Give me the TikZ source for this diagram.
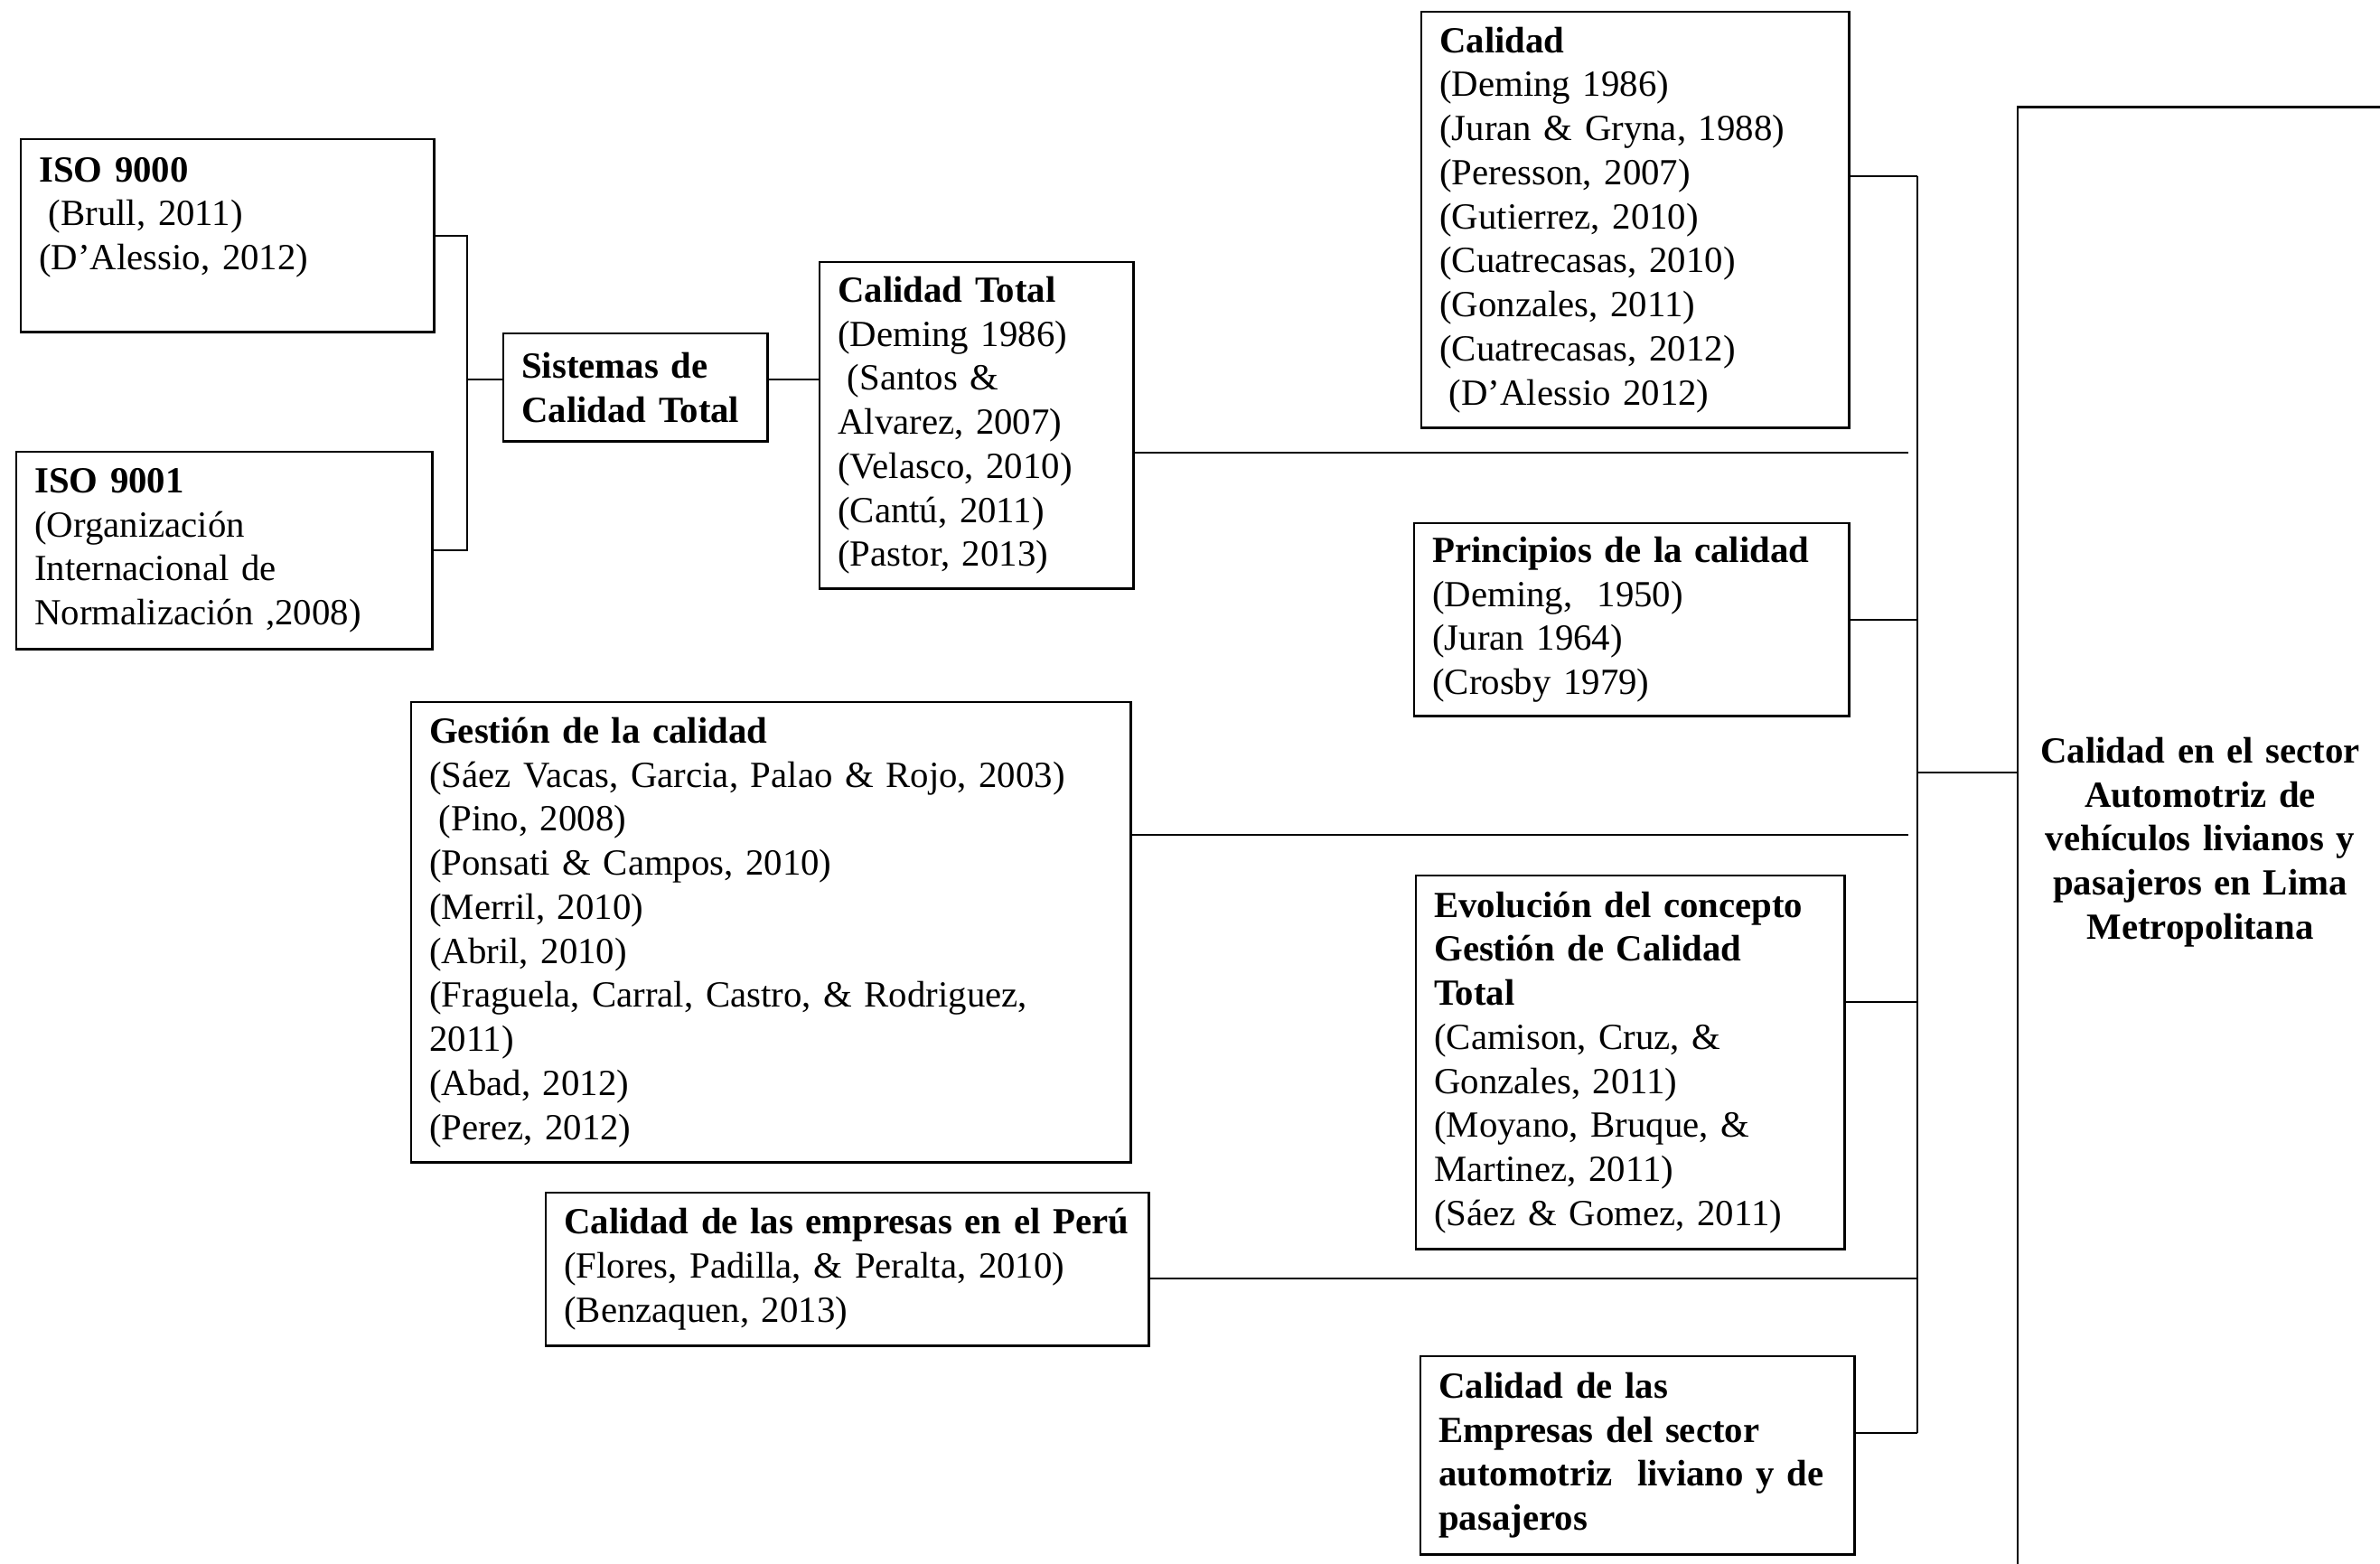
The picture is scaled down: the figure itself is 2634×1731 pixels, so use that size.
\documentclass[tikz,border=0pt,12pt]{standalone}
\usepackage{fontspec}
\setmainfont{Liberation Serif}
\usetikzlibrary{positioning}
\tikzset{
  cell/.style={
    rectangle, draw=black, line width=0.7pt, anchor=north west,
    font=\fontsize{11.6}{13.86}\selectfont, align=left,
    inner xsep=0.2cm, inner ysep=0pt
  },
  hub/.style={cell, anchor=center, align=center,
    font=\bfseries\fontsize{11.6}{13.86}\selectfont},
  link/.style={line width=0.6pt, black}
}

\begin{document}
\begin{tikzpicture}[x=0.01cm, y=-0.01cm]

\useasboundingbox (0,0) rectangle (2634,1731);
\clip (0,0) rectangle (2634,1731);

\node[cell, text width=4.17cm, minimum height=2.13cm] (iso0) at (22,153)
  {\textbf{ISO 9000}\\\hspace*{3pt}(Brull, 2011)\\(D'Alessio, 2012)\\ ~};

\node[cell, text width=4.20cm, minimum height=2.18cm] (iso1) at (17,499)
  {\textbf{ISO 9001}\\(Organización\\Internacional de\\Normalización\ ,2008)};

\node[cell, text width=2.52cm, minimum height=1.19cm] (sis) at (556,368)
  {\textbf{Sistemas de}\\\textbf{Calidad Total}};

\node[cell, text width=3.07cm, minimum height=3.61cm] (ct) at (906,289)
  {\textbf{Calidad Total}\\(Deming 1986)\\\hspace*{3pt}(Santos \&\\Alvarez, 2007)\\(Velasco, 2010)\\(Cantú, 2011)\\(Pastor, 2013)};

\node[cell, text width=4.33cm, minimum height=4.60cm] (cal) at (1572,12)
  {\textbf{Calidad}\\(Deming 1986)\\(Juran \& Gryna, 1988)\\(Peresson, 2007)\\(Gutierrez, 2010)\\(Cuatrecasas, 2010)\\(Gonzales, 2011)\\(Cuatrecasas, 2012)\\\hspace*{3pt}(D’Alessio 2012)};

\node[cell, text width=4.41cm, minimum height=2.13cm] (pri) at (1564,578)
  {\textbf{Principios de la calidad}\\(Deming,\ \ 1950)\\(Juran 1964)\\(Crosby 1979)};

\node[cell, text width=7.56cm, minimum height=5.09cm] (ges) at (454,776)
  {\textbf{Gestión de la calidad}\\(Sáez Vacas, Garcia, Palao \& Rojo, 2003)\\\hspace*{3pt}(Pino, 2008)\\(Ponsati \& Campos, 2010)\\(Merril, 2010)\\(Abril, 2010)\\(Fraguela, Carral, Castro, \& Rodriguez,\\2011)\\(Abad, 2012)\\(Perez, 2012)};

\node[cell, text width=4.34cm, minimum height=4.13cm] (evo) at (1566,968)
  {\textbf{Evolución del concepto}\\\textbf{Gestión de Calidad}\\\textbf{Total}\\(Camison, Cruz, \&\\Gonzales, 2011)\\(Moyano, Bruque, \&\\Martinez, 2011)\\(Sáez \& Gomez, 2011)};

\node[cell, text width=6.27cm, minimum height=1.69cm] (peru) at (603,1319)
  {\mbox{\textbf{Calidad de las empresas en el Perú}}\\(Flores, Padilla, \& Peralta, 2010)\\(Benzaquen, 2013)};

\node[cell, text width=4.40cm, minimum height=2.19cm] (emp) at (1571,1500)
  {\textbf{Calidad de las}\\\textbf{Empresas del sector}\\\textbf{automotriz\ \ liviano y de}\\\textbf{pasajeros}};

\node[hub, text width=3.6cm, minimum width=4.04cm, minimum height=16.26cm] (big) at (2435,932)
  {Calidad en el sector\\Automotriz de\\vehículos livianos y\\pasajeros en Lima\\Metropolitana};

\coordinate (brk) at (517,420);
\coordinate (bustop) at (2122,195);
\coordinate (busbot) at (2122,1586);
\coordinate (jn) at (2122,855);
\coordinate (evojn) at (2122,1109);
\coordinate (perujn) at (2122,1415);
\coordinate (ctend) at (2112,501);
\coordinate (gesend) at (2112,924);

\draw[link] (iso0.east) -| (brk) |- (iso1.east);
\draw[link] (brk) -- (brk -| sis.west);
\draw[link] (brk -| sis.east) -- (brk -| ct.west);

\draw[link] (bustop) -- (busbot);
\draw[link] (cal.east |- bustop) -- (bustop);
\draw[link] (pri.east) -- (pri.east -| bustop);
\draw[link] (evo.east |- evojn) -- (evojn);
\draw[link] (emp.east |- busbot) -- (busbot);
\draw[link] (peru.east |- perujn) -- (perujn);
\draw[link] (ct.east |- ctend) -- (ctend);
\draw[link] (ges.east |- gesend) -- (gesend);
\draw[link] (jn) -- (jn -| big.west);

\end{tikzpicture}
\end{document}
